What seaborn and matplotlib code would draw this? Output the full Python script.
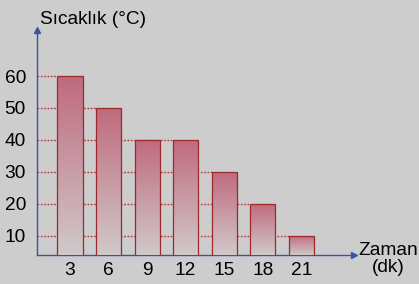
import numpy as np
import pandas as pd
import matplotlib
matplotlib.use("Agg")
import matplotlib.pyplot as plt
from matplotlib.colors import LinearSegmentedColormap
import seaborn as sns

zaman = [3, 6, 9, 12, 15, 18, 21]
sicaklik = [60, 50, 40, 40, 30, 20, 10]
y_ticks = [10, 20, 30, 40, 50, 60]

df = pd.DataFrame({"zaman": zaman, "sicaklik": sicaklik})

sns.set_style("white")
plt.rcParams["font.family"] = ["Liberation Sans", "DejaVu Sans"]
plt.rcParams["text.color"] = "black"
plt.rcParams["xtick.color"] = "black"
plt.rcParams["ytick.color"] = "black"

bg = "#cdcdcd"
axis_blue = "#3a55a0"
edge_red = "#9c2a2a"
fs = 13.8

fig = plt.figure(figsize=(4.19, 2.84), dpi=100, facecolor=bg)
ax = fig.add_axes([37 / 419, 1 - 255 / 284, (354 - 37) / 419, (255 - 30) / 284])
ax.set_facecolor(bg)

sns.barplot(data=df, x="zaman", y="sicaklik", native_scale=True, width=0.65,
            color="#c06a7e", edgecolor=edge_red, linewidth=0.9, ax=ax, zorder=3)

ax.set_xlim(0.43, 25.1)
ax.set_ylim(4, 74.4)

# gradient fill clipped to each bar
cmap = LinearSegmentedColormap.from_list("bar", ["#d0c9ca", "#c06a7e"])
grad = np.linspace(0, 1, 256).reshape(-1, 1)
for p in ax.patches:
    x0, w, h = p.get_x(), p.get_width(), p.get_height()
    im = ax.imshow(grad, cmap=cmap, origin="lower", aspect="auto",
                   extent=[x0, x0 + w, 4, h], zorder=3.5)
    im.set_clip_path(p)
    p.set_facecolor("none")
    p.set_zorder(4)

# dotted guide lines up to the last bar reaching each level
for v in y_ticks:
    reach = [z for z, s in zip(zaman, sicaklik) if s >= v]
    x_end = max(reach) - 0.325 * 3
    ax.plot([0.43, x_end], [v, v], ls=(0, (1.2, 1.2)), color="#b03030",
            lw=1.0, zorder=2)

ax.set_xticks(zaman)
ax.set_xticklabels([str(z) for z in zaman])
ax.set_yticks(y_ticks)
ax.tick_params(axis="y", length=4, width=1, color="black", labelsize=fs, pad=4)
ax.tick_params(axis="x", length=0, labelsize=fs, pad=5)

for side in ["top", "right"]:
    ax.spines[side].set_visible(False)
for side in ["left", "bottom"]:
    ax.spines[side].set_color(axis_blue)
    ax.spines[side].set_linewidth(1.0)

ax.plot(1, 4, ">", color=axis_blue, markersize=5, transform=ax.get_yaxis_transform(),
        clip_on=False, zorder=6)
ax.plot(0.43, 1, "^", color=axis_blue, markersize=5, transform=ax.get_xaxis_transform(),
        clip_on=False, zorder=6)

ax.set_xlabel("")
ax.set_ylabel("")
fig.text(40 / 419, 1 - 19 / 284, "Sıcaklık (°C)", fontsize=fs, va="center", ha="left")
fig.text(388 / 419, 1 - 259 / 284, "Zaman\n(dk)", fontsize=fs, va="center",
         ha="center", linespacing=0.95)

fig.savefig("out.png", dpi=100, facecolor=bg)
